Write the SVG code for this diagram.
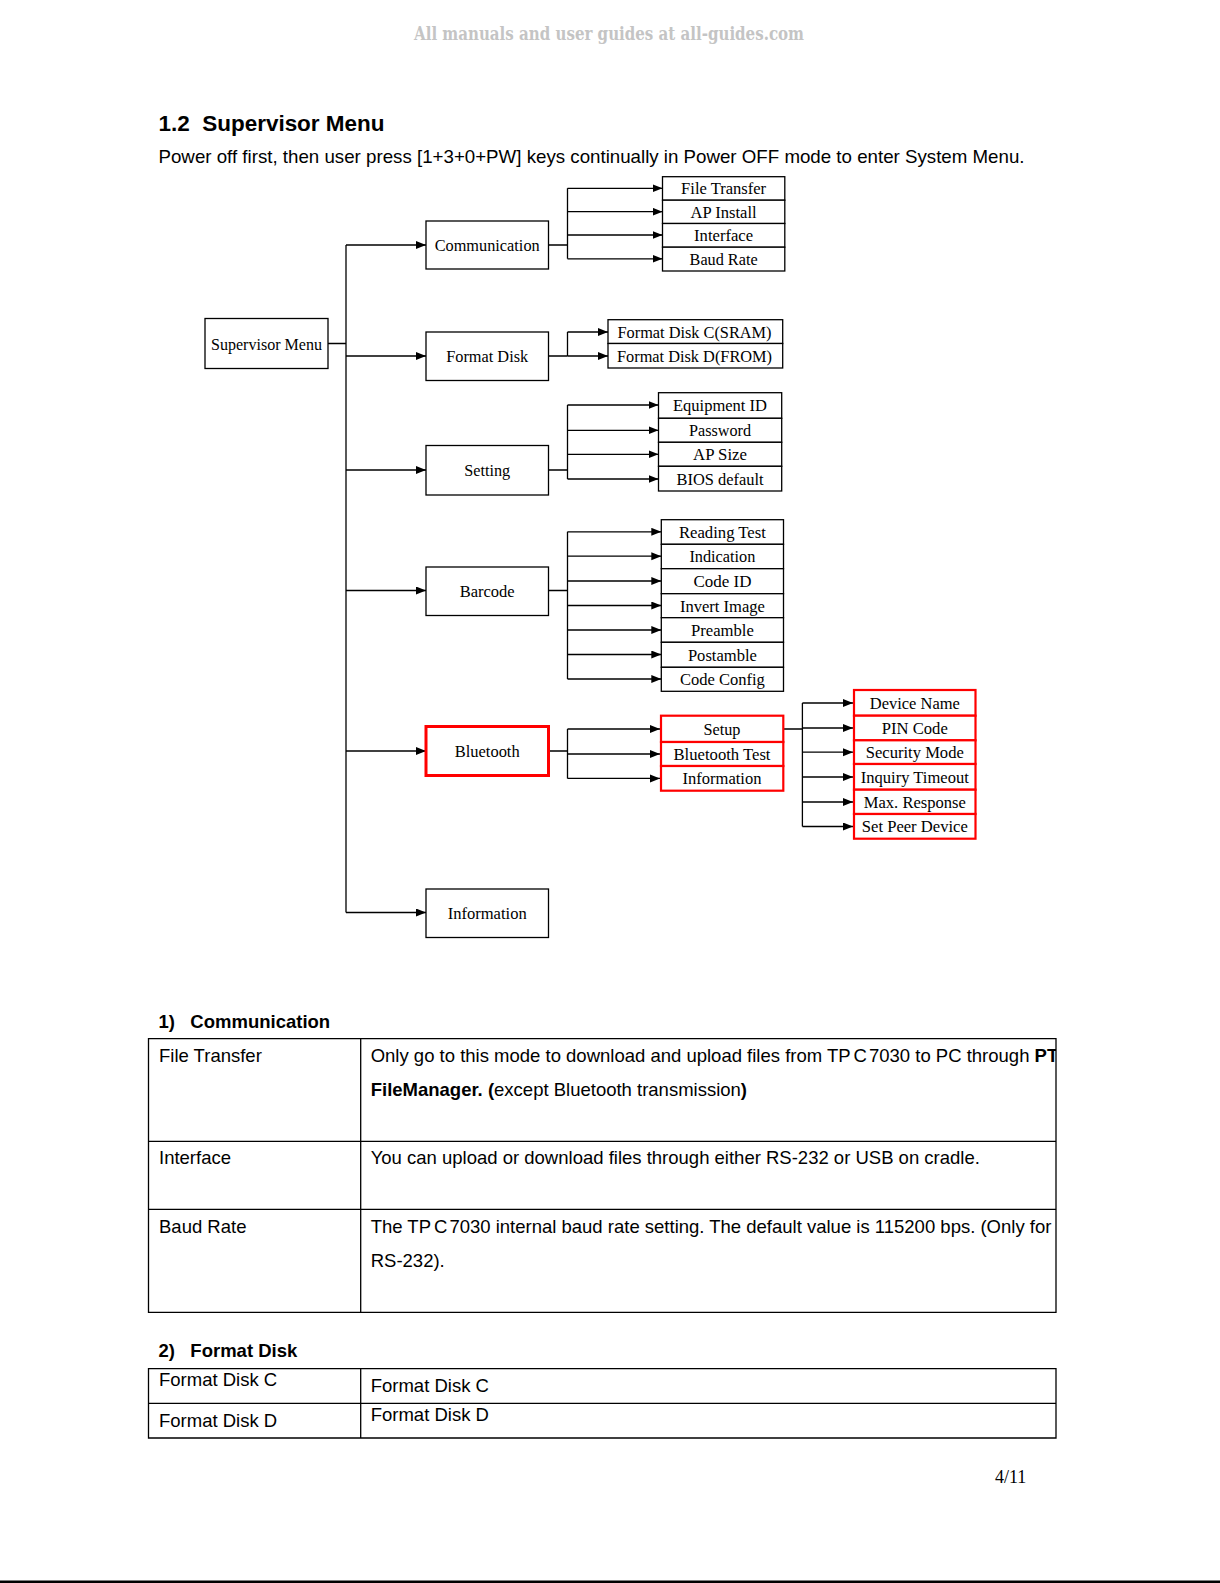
<svg xmlns="http://www.w3.org/2000/svg" width="1220" height="1583" viewBox="0 0 1220 1583">
<style>
.bx{fill:#fff;stroke:#000;stroke-width:1.3}
.rb{fill:#fff;stroke:#ff0000;stroke-width:2.2}
.rb3{fill:#fff;stroke:#ff0000;stroke-width:3}
.ln{fill:none;stroke:#000;stroke-width:1.3}
.ar{fill:none;stroke:#000;stroke-width:1.3;marker-end:url(#ah)}
.dt{font-family:"Liberation Serif","Times New Roman",serif;font-size:17.5px;fill:#000;text-anchor:middle}
.sn{font-family:"Liberation Sans",Arial,sans-serif;font-size:18.5px;fill:#000}
.sb{font-family:"Liberation Sans",Arial,sans-serif;font-size:18.5px;font-weight:bold;fill:#000}
.tl{fill:none;stroke:#000;stroke-width:1.3}
</style>
<defs>
<marker id="ah" markerUnits="userSpaceOnUse" markerWidth="11" markerHeight="9" refX="10" refY="4" orient="auto">
<path d="M0,0 L10,4 L0,8 z" fill="#000"/>
</marker>
<clipPath id="tc"><rect x="0" y="0" width="1056" height="1583"/></clipPath>
</defs>
<rect x="0" y="0" width="1220" height="1583" fill="#fff"/>
<text x="609" y="40" text-anchor="middle" font-family="DejaVu Serif, Liberation Serif, serif" font-weight="bold" font-size="18" fill="#c4c4c4" textLength="390" lengthAdjust="spacingAndGlyphs">All manuals and user guides at all-guides.com</text>
<text x="158.5" y="131" font-family="Liberation Sans, Arial, sans-serif" font-weight="bold" font-size="22px" textLength="226" lengthAdjust="spacingAndGlyphs" xml:space="preserve">1.2  Supervisor Menu</text>
<text class="sn" x="158.5" y="163" textLength="866" lengthAdjust="spacingAndGlyphs">Power off first, then user press [1+3+0+PW] keys continually in Power OFF mode to enter System Menu.</text>

<g id="connectors">
<path class="ln" d="M328,343.5 H346 M346,245 V912.5"/>
<path class="ar" d="M346,245 H426"/>
<path class="ar" d="M346,356 H426"/>
<path class="ar" d="M346,470 H426"/>
<path class="ar" d="M346,590.5 H426"/>
<path class="ar" d="M346,751 H426"/>
<path class="ar" d="M346,912.5 H426"/>
<path class="ln" d="M548.5,245 H567.5 M567.5,188.3 V258.8"/>
<path class="ar" d="M567.5,188.3 H662.5"/>
<path class="ar" d="M567.5,211.7 H662.5"/>
<path class="ar" d="M567.5,235 H662.5"/>
<path class="ar" d="M567.5,258.8 H662.5"/>
<path class="ln" d="M548.5,356 H567.5 M567.5,332 V356"/>
<path class="ar" d="M567.5,332 H608"/>
<path class="ar" d="M567.5,356 H608"/>
<path class="ln" d="M548.5,470 H567.5 M567.5,405 V479"/>
<path class="ar" d="M567.5,405 H658.5"/>
<path class="ar" d="M567.5,430.3 H658.5"/>
<path class="ar" d="M567.5,454.3 H658.5"/>
<path class="ar" d="M567.5,479 H658.5"/>
<path class="ln" d="M548.5,590.5 H567.5 M567.5,531.8 V679"/>
<path class="ar" d="M567.5,531.8 H661.3"/>
<path class="ar" d="M567.5,556.2 H661.3"/>
<path class="ar" d="M567.5,581 H661.3"/>
<path class="ar" d="M567.5,605.5 H661.3"/>
<path class="ar" d="M567.5,630 H661.3"/>
<path class="ar" d="M567.5,654.5 H661.3"/>
<path class="ar" d="M567.5,679 H661.3"/>
<path class="ln" d="M549.5,751 H567.5 M567.5,729 V778.4"/>
<path class="ar" d="M567.5,729 H660"/>
<path class="ar" d="M567.5,754 H660"/>
<path class="ar" d="M567.5,778.4 H660"/>
<path class="ln" d="M784,729 H802.4 M802.4,703 V826.5"/>
<path class="ar" d="M802.4,703 H853"/>
<path class="ar" d="M802.4,728 H853"/>
<path class="ar" d="M802.4,752.2 H853"/>
<path class="ar" d="M802.4,777 H853"/>
<path class="ar" d="M802.4,802 H853"/>
<path class="ar" d="M802.4,826.5 H853"/>
</g>

<g id="n-supervisor"><rect class="bx" x="205" y="318.5" width="123" height="50"/><text class="dt" x="266.5" y="349.5" textLength="111" lengthAdjust="spacingAndGlyphs">Supervisor Menu</text></g>
<g id="n-communication"><rect class="bx" x="426" y="221" width="122.5" height="48"/><text class="dt" x="487.2" y="251" textLength="105" lengthAdjust="spacingAndGlyphs">Communication</text></g>
<g id="n-formatdisk"><rect class="bx" x="426" y="332" width="122.5" height="48.5"/><text class="dt" x="487.2" y="362" textLength="82" lengthAdjust="spacingAndGlyphs">Format Disk</text></g>
<g id="n-setting"><rect class="bx" x="426" y="445.5" width="122.5" height="49.5"/><text class="dt" x="487.2" y="476" textLength="46" lengthAdjust="spacingAndGlyphs">Setting</text></g>
<g id="n-barcode"><rect class="bx" x="426" y="567" width="122.5" height="48.5"/><text class="dt" x="487.2" y="596.5" textLength="55" lengthAdjust="spacingAndGlyphs">Barcode</text></g>
<g id="n-bluetooth"><rect class="rb3" x="426" y="726.5" width="122.5" height="49"/><text class="dt" x="487.2" y="757" textLength="65" lengthAdjust="spacingAndGlyphs">Bluetooth</text></g>
<g id="n-information"><rect class="bx" x="426" y="889" width="122.5" height="48.5"/><text class="dt" x="487.2" y="918.5" textLength="79" lengthAdjust="spacingAndGlyphs">Information</text></g>

<g id="n-comm-subs">
<rect class="bx" x="662.5" y="176.7" width="122.3" height="23.5"/><text class="dt" x="723.6" y="194.3" textLength="85" lengthAdjust="spacingAndGlyphs">File Transfer</text>
<rect class="bx" x="662.5" y="200.2" width="122.3" height="23.3"/><text class="dt" x="723.6" y="217.7" textLength="66" lengthAdjust="spacingAndGlyphs">AP Install</text>
<rect class="bx" x="662.5" y="223.5" width="122.3" height="23.7"/><text class="dt" x="723.6" y="241" textLength="59" lengthAdjust="spacingAndGlyphs">Interface</text>
<rect class="bx" x="662.5" y="247.2" width="122.3" height="23.8"/><text class="dt" x="723.6" y="264.8" textLength="68" lengthAdjust="spacingAndGlyphs">Baud Rate</text>
</g>
<g id="n-format-subs">
<rect class="bx" x="608" y="319.7" width="174.7" height="23.8"/><text class="dt" x="694.5" y="337.8" textLength="154" lengthAdjust="spacingAndGlyphs">Format Disk C(SRAM)</text>
<rect class="bx" x="608" y="343.5" width="174.7" height="24.5"/><text class="dt" x="694.5" y="362" textLength="155" lengthAdjust="spacingAndGlyphs">Format Disk D(FROM)</text>
</g>
<g id="n-setting-subs">
<rect class="bx" x="658.5" y="392.7" width="123.2" height="25.6"/><text class="dt" x="720" y="411" textLength="94" lengthAdjust="spacingAndGlyphs">Equipment ID</text>
<rect class="bx" x="658.5" y="418.3" width="123.2" height="24"/><text class="dt" x="720" y="436.3" textLength="62" lengthAdjust="spacingAndGlyphs">Password</text>
<rect class="bx" x="658.5" y="442.3" width="123.2" height="24"/><text class="dt" x="720" y="460.3" textLength="54" lengthAdjust="spacingAndGlyphs">AP Size</text>
<rect class="bx" x="658.5" y="466.3" width="123.2" height="24.7"/><text class="dt" x="720" y="485" textLength="87" lengthAdjust="spacingAndGlyphs">BIOS default</text>
</g>
<g id="n-barcode-subs">
<rect class="bx" x="661.3" y="519.7" width="122.2" height="24.6"/><text class="dt" x="722.4" y="537.8" textLength="87" lengthAdjust="spacingAndGlyphs">Reading Test</text>
<rect class="bx" x="661.3" y="544.3" width="122.2" height="24.4"/><text class="dt" x="722.4" y="562.2" textLength="66" lengthAdjust="spacingAndGlyphs">Indication</text>
<rect class="bx" x="661.3" y="568.7" width="122.2" height="25"/><text class="dt" x="722.4" y="587" textLength="58" lengthAdjust="spacingAndGlyphs">Code ID</text>
<rect class="bx" x="661.3" y="593.7" width="122.2" height="24"/><text class="dt" x="722.4" y="611.5" textLength="85" lengthAdjust="spacingAndGlyphs">Invert Image</text>
<rect class="bx" x="661.3" y="617.7" width="122.2" height="24.6"/><text class="dt" x="722.4" y="636" textLength="63" lengthAdjust="spacingAndGlyphs">Preamble</text>
<rect class="bx" x="661.3" y="642.3" width="122.2" height="25"/><text class="dt" x="722.4" y="660.5" textLength="69" lengthAdjust="spacingAndGlyphs">Postamble</text>
<rect class="bx" x="661.3" y="667.3" width="122.2" height="24"/><text class="dt" x="722.4" y="685" textLength="85" lengthAdjust="spacingAndGlyphs">Code Config</text>
</g>
<g id="n-bt-subs">
<rect class="rb" x="661" y="715.7" width="122.3" height="26.3"/><text class="dt" x="722" y="735" textLength="37" lengthAdjust="spacingAndGlyphs">Setup</text>
<rect class="rb" x="661" y="742" width="122.3" height="24"/><text class="dt" x="722" y="760" textLength="97" lengthAdjust="spacingAndGlyphs">Bluetooth Test</text>
<rect class="rb" x="661" y="766" width="122.3" height="24.7"/><text class="dt" x="722" y="784.4" textLength="79" lengthAdjust="spacingAndGlyphs">Information</text>
</g>
<g id="n-setup-subs">
<rect class="rb" x="854" y="690" width="121.5" height="25.7"/><text class="dt" x="914.8" y="709" textLength="90" lengthAdjust="spacingAndGlyphs">Device Name</text>
<rect class="rb" x="854" y="715.7" width="121.5" height="24.6"/><text class="dt" x="914.8" y="734" textLength="66" lengthAdjust="spacingAndGlyphs">PIN Code</text>
<rect class="rb" x="854" y="740.3" width="121.5" height="23.7"/><text class="dt" x="914.8" y="758" textLength="98" lengthAdjust="spacingAndGlyphs">Security Mode</text>
<rect class="rb" x="854" y="764" width="121.5" height="25.7"/><text class="dt" x="914.8" y="783" textLength="108" lengthAdjust="spacingAndGlyphs">Inquiry Timeout</text>
<rect class="rb" x="854" y="789.7" width="121.5" height="24.3"/><text class="dt" x="914.8" y="808" textLength="102" lengthAdjust="spacingAndGlyphs">Max. Response</text>
<rect class="rb" x="854" y="814" width="121.5" height="24.7"/><text class="dt" x="914.8" y="832.4" textLength="106" lengthAdjust="spacingAndGlyphs">Set Peer Device</text>
</g>

<g id="table-communication">
<text class="sb" x="158.5" y="1028" xml:space="preserve">1)   Communication</text>
<path class="tl" d="M148.5,1038.7 H1056 V1312.3 H148.5 Z M360.7,1038.7 V1312.3 M148.5,1141.3 H1056 M148.5,1209.3 H1056"/>
<text class="sn" x="159" y="1061.7">File Transfer</text>
<g clip-path="url(#tc)">
<text class="sn" x="370.7" y="1061.7">Only go to this mode to download and upload files from TP<tspan dx="3">C</tspan><tspan dx="2">7030 to PC through </tspan><tspan font-weight="bold">PT</tspan></text>
<text class="sn" x="370.7" y="1232.7">The TP<tspan dx="3">C</tspan><tspan dx="2">7030 internal baud rate setting. The default value is 115200 bps. (Only for</tspan></text>
</g>
<text class="sn" x="370.7" y="1096"><tspan font-weight="bold">FileManager. (</tspan>except Bluetooth transmission<tspan font-weight="bold">)</tspan></text>
<text class="sn" x="159" y="1164.3">Interface</text>
<text class="sn" x="370.7" y="1164.3">You can upload or download files through either RS-232 or USB on cradle.</text>
<text class="sn" x="159" y="1232.7">Baud Rate</text>
<text class="sn" x="370.7" y="1266.7">RS-232).</text>
</g>

<g id="table-formatdisk">
<text class="sb" x="158.5" y="1356.7" xml:space="preserve">2)   Format Disk</text>
<path class="tl" d="M148.5,1368.7 H1056 V1438 H148.5 Z M360.7,1368.7 V1438 M148.5,1403.3 H1056"/>
<text class="sn" x="159" y="1385.7">Format Disk C</text>
<text class="sn" x="370.7" y="1391.7">Format Disk C</text>
<text class="sn" x="159" y="1426.7">Format Disk D</text>
<text class="sn" x="370.7" y="1420.7">Format Disk D</text>
</g>
<text x="995" y="1483" font-family="Liberation Serif, Times New Roman, serif" font-size="18px">4/11</text>
<rect x="0" y="1580.5" width="1220" height="2.5" fill="#000"/>
</svg>
